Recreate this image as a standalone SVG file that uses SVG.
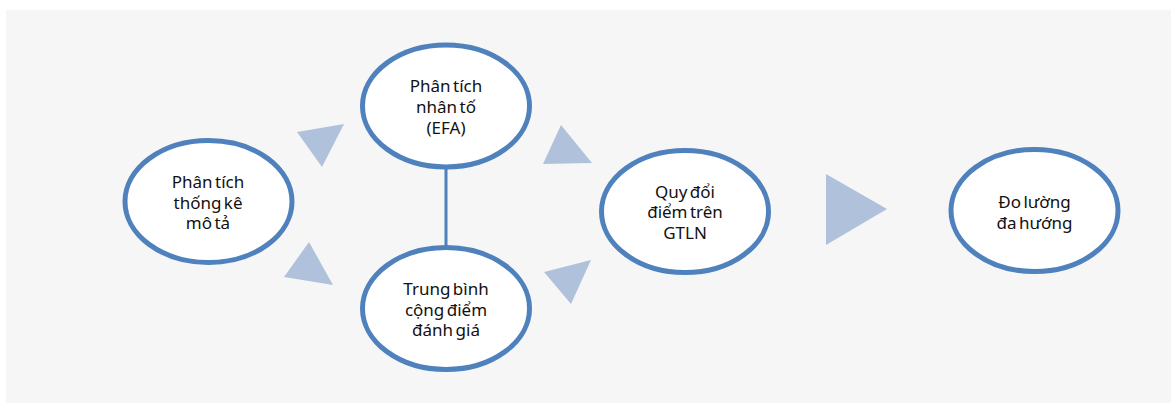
<svg xmlns="http://www.w3.org/2000/svg" width="1171" height="404" viewBox="0 0 1171 404">
<style>
.node ellipse{fill:#FFFFFF;stroke:#4F81BD;stroke-width:5}
.node text{font-family:"Noto Sans","Open Sans",sans-serif;font-size:17px;fill:#111111;text-anchor:middle;word-spacing:-2px}
.arrow{fill:#B0C1DC}
.link{stroke:#4F81BD;stroke-width:3;fill:none}
</style>
<rect x="0" y="0" width="1171" height="404" fill="#FFFFFF"/>
<rect x="6" y="10" width="1165" height="393" fill="#F6F6F6"/>
<g id="connectors">
<line class="link" x1="446" y1="168" x2="446" y2="246"/>
<polygon class="arrow" points="297,132 344,124 322,167"/>
<polygon class="arrow" points="309,242 333,285 284,277"/>
<polygon class="arrow" points="561,125 592,163 543,164"/>
<polygon class="arrow" points="544,272 591,260 571,304"/>
<polygon class="arrow" points="826,174 887,209 826,245"/>
</g>
<g id="n1" class="node">
<ellipse cx="208.5" cy="201.5" rx="83.5" ry="61"/>
<text x="208" y="188">Phân tích</text>
<text x="208" y="209">thống kê</text>
<text x="208" y="229">mô tả</text>
</g>
<g id="n2" class="node">
<ellipse cx="446" cy="106" rx="83.5" ry="61"/>
<text x="446" y="92">Phân tích</text>
<text x="446" y="113">nhân tố</text>
<text x="446" y="134">(EFA)</text>
</g>
<g id="n3" class="node">
<ellipse cx="446" cy="308.5" rx="83.5" ry="61"/>
<text x="446" y="295">Trung bình</text>
<text x="446" y="316">cộng điểm</text>
<text x="446" y="336">đánh giá</text>
</g>
<g id="n4" class="node">
<ellipse cx="685" cy="211.5" rx="83.5" ry="61"/>
<text x="685" y="198">Quy đổi</text>
<text x="685" y="218">điểm trên</text>
<text x="685" y="239">GTLN</text>
</g>
<g id="n5" class="node">
<ellipse cx="1034.5" cy="210.5" rx="83.5" ry="61"/>
<text x="1034.5" y="208">Đo lường</text>
<text x="1034.5" y="229">đa hướng</text>
</g>
</svg>
